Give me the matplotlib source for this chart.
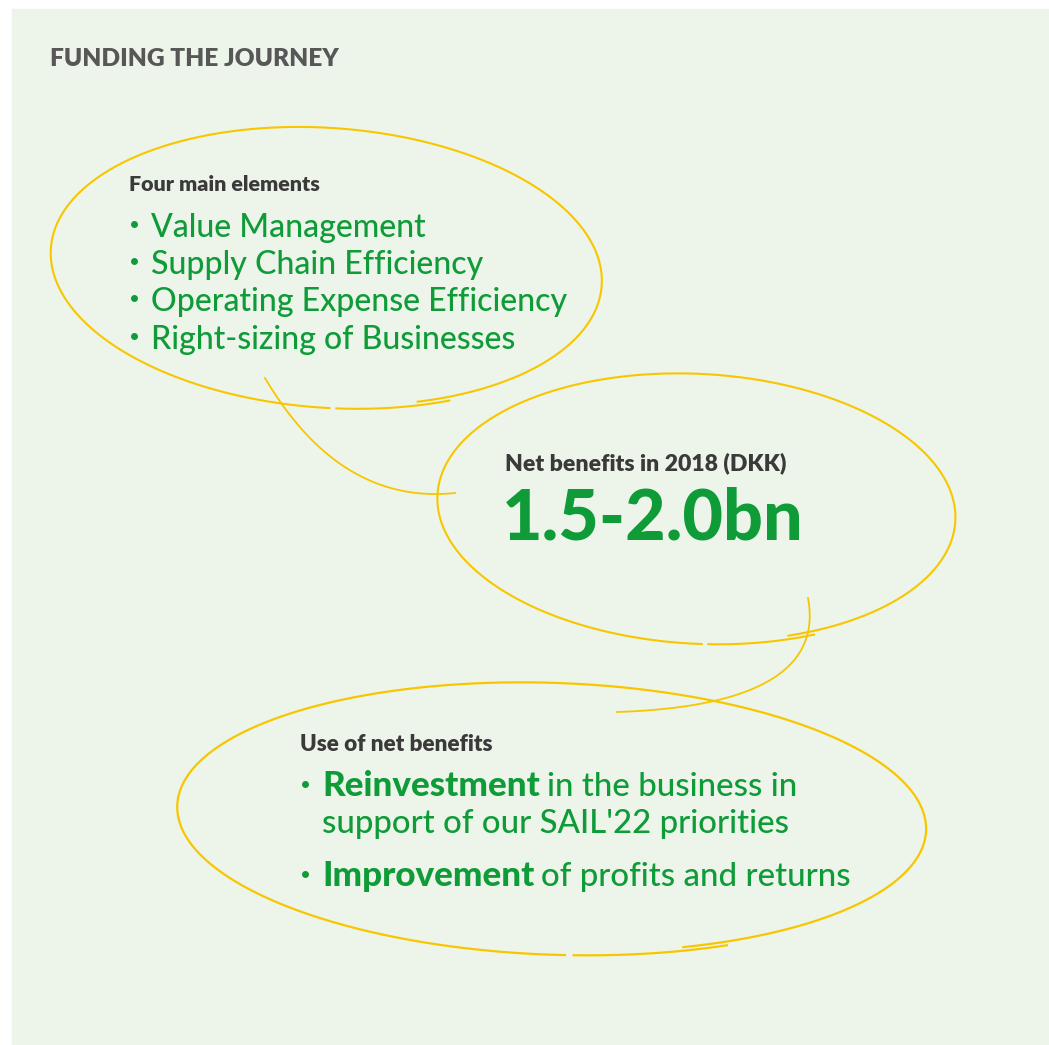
import numpy as np
import matplotlib
matplotlib.use("Agg")
import matplotlib.pyplot as plt

# texts of the infographic
title = "FUNDING THE JOURNEY"
box1_head = "Four main elements"
box1_items = ["Value Management", "Supply Chain Efficiency",
              "Operating Expense Efficiency", "Right-sizing of Businesses"]
box2_head = "Net benefits in 2018 (DKK)"
box2_value = "1.5-2.0bn"
box3_head = "Use of net benefits"
box3_items = [[("Reinvestment", "black"), (" in the business in", "medium")],
              [("support of our SAIL'22 priorities", "medium")],
              [("Improvement", "black"), (" of profits and returns", "medium")]]
box3_bullets = [True, False, True]

BG = "#edf5ea"
GREEN = "#0e9b38"
DARK = "#3a3a3a"
GREY = "#575757"
YELLOW = "#f8c600"
FONT = "Lato"

W, H = 1049, 1045
fig = plt.figure(figsize=(W / 100, H / 100), dpi=100)
ax = fig.add_axes([0, 0, 1, 1])
ax.set_xlim(0, W)
ax.set_ylim(H, 0)
ax.axis("off")
ax.add_patch(plt.Rectangle((12, 9), W - 12, H - 9, color=BG, zorder=0))


def hand_loop(cx, cy, a, b, tilt, start, overshoot, shrink, gap=87, lw=1.5):
    """Sketchy ellipse: a loop that slightly spirals in and overshoots its start."""
    deg = np.linspace(start, start + 360 + overshoot, 1500)
    t = np.radians(deg)
    f = 1 - shrink * np.linspace(0, 1, t.size)
    x = a * f * np.cos(t)
    y = b * f * np.sin(t)
    p = np.radians(tilt)
    xr = cx + x * np.cos(p) - y * np.sin(p)
    yr = cy + x * np.sin(p) + y * np.cos(p)
    xr[np.abs(deg - gap) < 0.35] = np.nan  # small pen break
    ax.plot(xr, yr, color=YELLOW, lw=lw, solid_capstyle="butt", zorder=1)


def tail(p0, p1, p2, lw=1.3):
    t = np.linspace(0, 1, 100)[:, None]
    pts = (1 - t) ** 2 * np.array(p0) + 2 * t * (1 - t) * np.array(p1) + t ** 2 * np.array(p2)
    ax.plot(pts[:, 0], pts[:, 1], color=YELLOW, lw=lw, zorder=1)


hand_loop(328, 267, 280, 141, 4, 62, 7, 0.025)
hand_loop(698, 508, 263, 136, 3, 62, 6, 0.025)
hand_loop(554, 818, 380, 137, 2, 62, 7, 0.025, lw=1.6)
tail((265, 378), (340, 505), (455, 493))
tail((808, 598), (828, 705), (617, 712))

px = 72 / 100  # pixel -> point


def bullet(x, yb, up):
    ax.plot(x, yb - up, "o", ms=5, color=GREEN, mec="none")


ax.text(50, 66, title, fontsize=24.5 * px, fontweight="heavy", color=GREY,
        family=FONT, va="baseline")

# box 1
ax.text(129, 191, box1_head, fontsize=21.5 * px, fontweight="heavy", color=DARK,
        family=FONT, va="baseline")
for i, item in enumerate(box1_items):
    yb = 237 + i * 37.2
    bullet(134, yb, 13)
    ax.text(151, yb, item, fontsize=32 * px, fontweight="medium", color=GREEN,
            family=FONT, va="baseline")

# box 2
ax.text(505, 470, box2_head, fontsize=23 * px, fontweight="heavy", color=DARK,
        family=FONT, va="baseline")
ax.text(502, 540, box2_value, fontsize=70 * px, fontweight="black", color=GREEN,
        family=FONT, va="baseline")

# box 3
ax.text(300, 751, box3_head, fontsize=22.5 * px, fontweight="heavy", color=DARK,
        family=FONT, va="baseline")

renderer = fig.canvas.get_renderer()
inv = ax.transData.inverted()
baselines = [796, 833, 886]
for parts, yb, bul in zip(box3_items, baselines, box3_bullets):
    if bul:
        bullet(305, yb, 12)
    x = 322
    for txt, wt in parts:
        size = 33
        if wt == "black":
            size = 35
        if txt.startswith(" "):
            x += 7
            txt = txt[1:]
        t = ax.text(x, yb, txt, fontsize=size * px, fontweight=wt, color=GREEN,
                    family=FONT, va="baseline")
        bb = t.get_window_extent(renderer)
        x = inv.transform((bb.x1, bb.y0))[0]

fig.savefig("out.png", dpi=100, facecolor="white")
